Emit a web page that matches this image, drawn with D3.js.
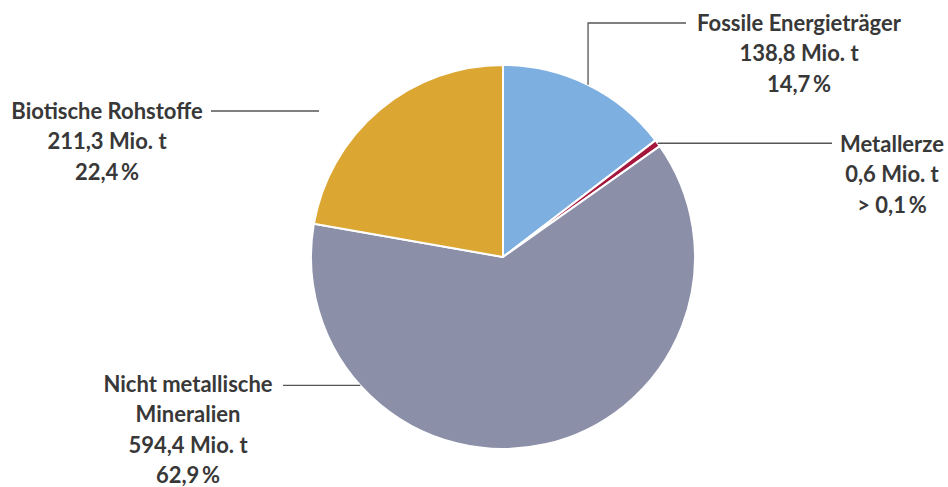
<!DOCTYPE html>
<html>
<head>
  <meta charset="utf-8">
  <script src="https://d3js.org/d3.v7.min.js"></script>
  <style>
    body { margin: 0; background: #fff; }
    svg { display: block; }
    .lbl { font-family: Lato, "Open Sans", sans-serif; font-weight: 700; font-size: 22px; fill: #383838; }
  </style>
</head>
<body>
<div id="chart"></div>
<script>
// data
var categories = ["Fossile Energieträger", "Metallerze", "Nicht metallische Mineralien", "Biotische Rohstoffe"];
var nameLines = [["Fossile Energieträger"], ["Metallerze"], ["Nicht metallische", "Mineralien"], ["Biotische Rohstoffe"]];
var amounts = [138.8, 0.6, 594.4, 211.3];           // Mio. t
var amountLabels = ["138,8 Mio. t", "0,6 Mio. t", "594,4 Mio. t", "211,3 Mio. t"];
var shareLabels = ["14,7\u2009%", "> 0,1\u2009%", "62,9\u2009%", "22,4\u2009%"];
var colors = ["#7eafe1", "#a5183e", "#8b8fa8", "#dca632"];

var W = 948, H = 487;
var cx = 503, cy = 257, R = 192;

var svg = d3.select("#chart").append("svg").attr("width", W).attr("height", H);
var g = svg.append("g").attr("transform", "translate(" + cx + "," + cy + ")");

// tiny slices get a minimum angle so they stay visible
var total = d3.sum(amounts);
var pie = d3.pie().sort(null).value(function (d) { return Math.max(d, total * 0.006); });
var arcs = pie(amounts);
var arc = d3.arc().innerRadius(0).outerRadius(R);

g.selectAll("path.slice")
  .data(arcs)
  .enter().append("path")
  .attr("class", "slice")
  .attr("d", arc)
  .attr("fill", function (d, i) { return colors[i]; })
  .attr("stroke", "#fff")
  .attr("stroke-width", 2)
  .attr("stroke-linejoin", "round");

function edge(a) { return [cx + R * Math.sin(a), cy - R * Math.cos(a)]; }
function mid(i) { return (arcs[i].startAngle + arcs[i].endAngle) / 2; }

// label layout: text centre + leader path
var layout = [
  { x: 799, y: 23, leader: function () { var p = edge(mid(0)); return [p, [p[0], 23], [686, 23]]; } },
  { x: 892, y: 144, leader: function () { var p = edge(mid(1)); return [p, [832, p[1]]]; } },
  { x: 188, y: 384, leader: function () { var p = edge(228 * Math.PI / 180); return [[283, p[1]], p]; } },
  { x: 107, y: 111, leader: function () { return [[211, 111], [319, 111]]; } }
];

var lineH = 30.5;
layout.forEach(function (L, i) {
  svg.append("path")
    .attr("d", d3.line()(L.leader()))
    .attr("fill", "none")
    .attr("stroke", "#555")
    .attr("stroke-width", 1.3);

  var lines = nameLines[i].concat([amountLabels[i], shareLabels[i]]);
  var t = svg.append("text").attr("class", "lbl").attr("text-anchor", "middle");
  lines.forEach(function (s, k) {
    t.append("tspan").attr("x", L.x).attr("y", L.y + k * lineH).attr("dy", "0.35em").text(s);
  });
});
</script>
</body>
</html>
